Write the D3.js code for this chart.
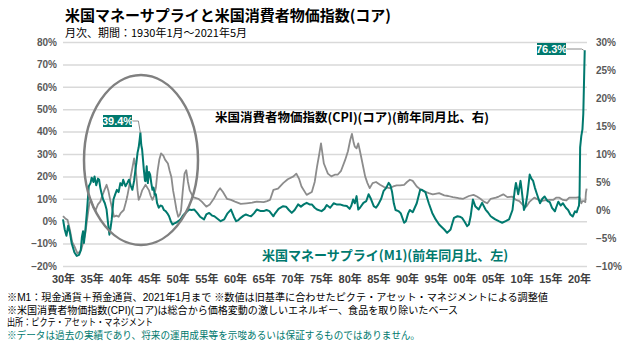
<!DOCTYPE html>
<html>
<head>
<meta charset="utf-8">
<script src="https://cdn.jsdelivr.net/npm/d3@7/dist/d3.min.js"></script>
<style>
  body { margin: 0; background: #fff; }
  svg { display: block; }
  .jp { font-family: "Noto Sans CJK JP", "Noto Sans", sans-serif; }
  .foot { font-family: "Liberation Sans", "Noto Sans CJK JP", sans-serif; }
  .num { font-family: "Liberation Sans Narrow", "Liberation Sans", "Noto Sans CJK JP", sans-serif; font-weight: bold; }
</style>
</head>
<body>
<svg id="chart"></svg>
<script>
// M1 (前年同月比、左軸) — [年, %]
const m1Years = [
  1930.0, 1930.3, 1930.6, 1930.9, 1931.2, 1931.5, 1932.0, 1932.4, 1932.8, 1933.1, 1933.3, 1933.5, 1933.65, 1933.9,
  1934.2, 1934.5, 1934.8, 1935.0, 1935.3, 1935.5, 1935.8, 1936.1, 1936.3, 1936.5, 1936.7, 1937.0, 1937.3, 1937.6,
  1937.9, 1938.1, 1938.3, 1938.5, 1938.8, 1939.1, 1939.4, 1939.7, 1940.0, 1940.3, 1940.5, 1940.7, 1940.9, 1941.2,
  1941.5, 1941.8, 1942.1, 1942.4, 1942.6, 1942.8, 1943.0, 1943.2, 1943.35, 1943.5, 1943.65, 1943.8, 1944.0, 1944.1,
  1944.3, 1944.4, 1944.6, 1944.8, 1945.0, 1945.2, 1945.4, 1945.6, 1945.8, 1946.0, 1946.2, 1946.4, 1946.7, 1947.0,
  1947.3, 1947.6, 1947.9, 1948.2, 1948.5, 1948.8, 1949.1, 1949.4, 1949.7, 1950.1, 1950.5, 1950.8, 1951.1, 1951.5,
  1952.0, 1952.4, 1952.9, 1953.4, 1953.9, 1954.6, 1955.0, 1955.5, 1956.0, 1956.4, 1957.0, 1957.5, 1958.1, 1958.7,
  1959.3, 1959.8, 1960.2, 1960.6, 1961.0, 1961.5, 1961.9, 1962.4, 1962.8, 1963.3, 1963.8, 1964.5, 1965.0, 1965.5,
  1966.0, 1966.7, 1967.0, 1967.6, 1968.4, 1968.9, 1969.4, 1969.9, 1970.4, 1971.0, 1971.5, 1972.0, 1972.5, 1973.0,
  1973.4, 1973.9, 1974.3, 1975.1, 1975.6, 1976.0, 1976.6, 1977.2, 1977.7, 1978.3, 1978.9, 1979.5, 1980.0, 1980.3,
  1980.6, 1980.9, 1981.2, 1981.5, 1981.8, 1982.4, 1982.9, 1983.3, 1983.7, 1984.2, 1984.6, 1985.0, 1985.5, 1985.9,
  1986.4, 1986.8, 1987.1, 1987.4, 1987.7, 1988.0, 1988.5, 1988.9, 1989.5, 1989.8, 1990.2, 1990.5, 1991.0, 1991.7,
  1992.0, 1992.3, 1992.6, 1993.2, 1993.5, 1993.8, 1994.4, 1995.0, 1995.6, 1996.0, 1996.5, 1997.0, 1997.6, 1997.9,
  1998.2, 1998.8, 1999.2, 1999.6, 2000.0, 2000.5, 2000.8, 2001.1, 2001.5, 2001.9, 2002.5, 2003.1, 2003.7, 2004.1,
  2004.6, 2005.0, 2005.4, 2006.0, 2006.6, 2007.2, 2007.8, 2008.4, 2008.8, 2009.0, 2009.4, 2009.8, 2010.0, 2010.4,
  2010.7, 2011.0, 2011.4, 2011.7, 2012.0, 2012.3, 2012.6, 2013.2, 2013.6, 2014.0, 2014.5, 2014.9, 2015.3, 2015.8,
  2016.0, 2016.4, 2016.8, 2017.2, 2017.7, 2018.1, 2018.5, 2018.9, 2019.3, 2019.6, 2019.85, 2020.0, 2020.1, 2020.2,
  2020.4, 2020.6, 2020.75, 2021.0
];
const m1Values = [
  0.8, -3.7, -6.5, -2, -5, -9.7, -14, -15.5, -15, -13, -7, -4.5, -9.7, -4,
  5.2, 15.6, 17, 19.4, 17.5, 20, 16, 19, 18.5, 15, 12.7, 9.7, 8, 5.2,
  -2, -6, -3, 0.8, 9.7, 12, 14, 13, 17, 16, 18.5, 17, 15.6, 17,
  18.5, 16, 14, 18, 22.3, 26, 30.5, 33, 36, 39.4, 34, 32, 26, 23,
  18, 17.9, 24.5, 17, 22, 20.8, 17, 14, 15, 11.9, 12, 8.2, 6, 7,
  6.7, 5, 4.5, 3.5, 2.2, 0, -1.5, -1, -0.7, 0, 0.8, 2, 3, 4,
  5.2, 5, 5.2, 3.7, 2, 0.8, 3, 3.7, 2.5, 2.2, 1, 0, 0.8, 3.5,
  5.2, 2, 0, 0.5, 1.5, 2.5, 3, 2.5, 2.2, 3.5, 5.2, 4.5, 4.5, 5,
  4.5, 2.2, 3.5, 5.5, 6.7, 6.5, 5, 3.7, 5, 7.5, 6.5, 7.5, 8.2, 7.5,
  7.5, 6, 5.2, 4.5, 5.5, 7.2, 6, 8, 7.5, 7.5, 7, 6.8, 5.5, 7,
  9.7, 8, 11.2, 5.2, 6, 8.2, 9, 12, 10, 6.7, 6, 7.5, 10, 13.4,
  15, 17.1, 16, 13, 8, 5, 4.5, 3.6, -0.7, 0, 3.5, 5, 4, 8,
  11, 14, 14, 13, 10.5, 8, 3.7, 0.8, -1.5, -2.5, -3.7, -5.2, -3.7, -1,
  1.5, 2.2, 2, 1.5, 0, -2.2, -1.5, 2.2, 9.7, 6.7, 5.2, 8.2, 5.2, 4,
  2.2, 1.5, 0.8, 0, -0.7, 0, 0.8, 5, 14, 17.1, 12, 18, 14, 5,
  7, 12, 20.8, 19, 18, 15, 12.6, 8, 10, 11, 9, 8.5, 6, 4.4,
  6, 8.7, 7, 8, 6, 5, 3, 2.1, 4.4, 4, 6, 7, 12, 33,
  38, 41, 48, 76.3
];

// 米国消費者物価指数(コア)(前年同月比、右軸) — [年, %]
const cpiYears = [
  1930.0, 1930.4, 1930.8, 1931.2, 1931.6, 1932.0, 1932.5, 1932.9, 1933.2, 1933.6, 1933.9, 1934.3, 1934.6, 1934.9,
  1935.3, 1935.7, 1936.1, 1936.5, 1936.8, 1937.2, 1937.6, 1937.9, 1938.3, 1938.9, 1939.3, 1939.7, 1940.1, 1940.6,
  1941.0, 1941.2, 1941.5, 1941.8, 1942.1, 1942.4, 1942.6, 1942.8, 1943.0, 1943.2, 1943.5, 1943.8, 1944.1, 1944.4,
  1944.7, 1945.0, 1945.3, 1945.6, 1945.9, 1946.2, 1946.5, 1946.8, 1947.1, 1947.5, 1947.8, 1948.3, 1948.6, 1948.9,
  1949.2, 1949.5, 1949.8, 1950.1, 1950.4, 1950.6, 1950.9, 1951.2, 1951.5, 1951.8, 1952.1, 1952.7, 1953.6, 1954.2,
  1955.0, 1955.6, 1956.3, 1956.9, 1957.4, 1957.9, 1958.6, 1959.3, 1960.0, 1961.0, 1962.0, 1963.0, 1963.8, 1965.0,
  1965.6, 1966.1, 1966.7, 1967.5, 1968.4, 1969.2, 1970.2, 1970.7, 1971.2, 1971.6, 1972.5, 1973.4, 1973.9, 1974.3,
  1974.7, 1975.0, 1975.5, 1976.2, 1976.8, 1977.4, 1977.9, 1978.5, 1979.2, 1979.7, 1980.1, 1980.4, 1980.7, 1980.9,
  1981.2, 1981.5, 1981.8, 1982.0, 1982.4, 1982.7, 1983.1, 1983.5, 1984.0, 1984.6, 1985.3, 1986.0, 1986.5, 1987.0,
  1987.6, 1988.2, 1988.8, 1989.5, 1990.0, 1990.5, 1991.0, 1991.7, 1992.3, 1992.9, 1993.8, 1994.5, 1995.6, 1996.5,
  1997.2, 1998.0, 1999.0, 1999.8, 2000.8, 2001.6, 2002.2, 2002.8, 2003.4, 2004.0, 2004.6, 2005.5, 2006.0, 2006.8,
  2007.5, 2008.3, 2009.0, 2009.6, 2010.2, 2010.8, 2011.4, 2012.2, 2012.8, 2013.4, 2014.0, 2014.9, 2015.5, 2016.0,
  2016.6, 2017.2, 2017.8, 2018.3, 2018.9, 2019.5, 2020.1, 2020.4, 2020.6, 2020.9, 2021.1, 2021.2, 2021.33
];
const cpiValues = [
  -1.1, -1.5, -1.8, -3.5, -5.7, -6.5, -7.7, -7.5, -7, -5.5, -4.1, -1, 1.2, 1.8,
  0.5, 0, 1, 1.5, 2.4, 3.5, 4.5, 3.5, 1.5, -1.2, -1, -1.2, -0.5, 0,
  1.5, 2.4, 4, 5.9, 7.5, 9.2, 8, 6, 3.5, 1.8, 2.5, 3.5, 4, 4.5,
  4, 3.5, 2.5, 1.8, 2.5, 4, 7, 9, 10.1, 9.7, 9, 8.3, 7, 5.9,
  3.5, 1.8, 0, -1.2, -0.8, 0, 3.5, 6.5, 7.1, 5, 3.5, 2.3, 2, 1.5,
  0.6, 1, 2, 3.2, 3.9, 3.2, 2, 1.8, 1.5, 1.1, 1.2, 1.3, 1.5, 1.4,
  1.6, 1.8, 3.6, 3.8, 4.8, 5.5, 6, 6.5, 5.5, 4.2, 2.7, 3.2, 5, 7.7,
  10, 11.9, 8.3, 6.5, 6, 6.3, 6.3, 7, 8.9, 10.5, 12.5, 13.6, 12, 11.3,
  11, 11.9, 10.5, 9.5, 7.5, 6, 4.8, 3.9, 4.8, 5, 4.5, 4.1, 4, 3.9,
  4.2, 4.4, 4.4, 4.5, 5, 5.4, 5.2, 4.2, 3.7, 3.4, 3, 2.8, 3, 2.6,
  2.5, 2.3, 2.1, 2, 2.5, 2.7, 2.4, 2, 1.5, 1.2, 2, 2.2, 2.4, 2.8,
  2.3, 2.4, 1.8, 1.6, 0.9, 0.6, 1.5, 2.2, 1.9, 1.6, 1.7, 1.8, 1.8, 2.2,
  2.2, 1.8, 1.7, 2.2, 2.2, 2.2, 2.3, 1.2, 1.6, 1.6, 1.4, 3, 3.8
];

const leftTicks = [80, 70, 60, 50, 40, 30, 20, 10, 0, -10, -20];
const rightTicks = [30, 25, 20, 15, 10, 5, 0, -5, -10];
const xTickYears = d3.range(1930, 2021, 5);

const footnotes = [
  '※M1：現金通貨＋預金通貨、2021年1月まで ※数値は旧基準に合わせたピクテ・アセット・マネジメントによる調整値',
  '※米国消費者物価指数(CPI)(コア)は総合から価格変動の激しいエネルギー、食品を取り除いたベース',
  '出所：ピクテ・アセット・マネジメント',
  '※データは過去の実績であり、将来の運用成果等を示唆あるいは保証するものではありません。'
];
const footWidths = [541, 451, 146, 413];

const TEAL = '#00796e';
const GRAY = '#8c8c8c';

const width = 628, height = 361;
const plot = { left: 63, right: 587, top: 42, bottom: 266 };

const svg = d3.select('#chart').attr('width', width).attr('height', height);

const x = d3.scaleLinear().domain([1930, 2020]).range([63, 579]);
const yL = d3.scaleLinear().domain([-20, 80]).range([plot.bottom, plot.top]);
const yR = d3.scaleLinear().domain([-10, 30]).range([plot.bottom, plot.top]);

const fmtPct = v => (v < 0 ? '−' + Math.abs(v) : v) + '%';

// Title
svg.append('text').attr('class', 'jp')
  .attr('x', 65).attr('y', 21)
  .attr('font-size', 15).attr('font-weight', 'bold').attr('fill', '#000')
  .text('米国マネーサプライと米国消費者物価指数(コア)');

svg.append('text').attr('class', 'jp')
  .attr('x', 65).attr('y', 37)
  .attr('font-size', 11).attr('fill', '#000')
  .text('月次、期間：1930年1月～2021年5月');

// Grid + axes
const gridAxis = svg.append('g')
  .attr('transform', `translate(${plot.left},0)`)
  .call(d3.axisLeft(yL).tickValues(leftTicks).tickSize(-(plot.right - plot.left)).tickFormat(''));
gridAxis.select('.domain').remove();
gridAxis.selectAll('line').attr('stroke', '#d9d9d9').attr('stroke-width', 1.5);

const leftAxis = svg.append('g')
  .attr('transform', `translate(${plot.left - 6},0)`)
  .call(d3.axisLeft(yL).tickValues(leftTicks).tickSize(0).tickPadding(0).tickFormat(fmtPct));
leftAxis.select('.domain').remove();
leftAxis.selectAll('text').attr('class', 'num').attr('font-size', 10).attr('fill', '#595959');

const rightAxis = svg.append('g')
  .attr('transform', `translate(${plot.right + 9},0)`)
  .call(d3.axisRight(yR).tickValues(rightTicks).tickSize(0).tickPadding(0).tickFormat(fmtPct));
rightAxis.select('.domain').remove();
rightAxis.selectAll('text').attr('class', 'num').attr('font-size', 10).attr('fill', '#595959');

const xAxis = svg.append('g')
  .attr('transform', `translate(0,${plot.bottom + 5})`)
  .call(d3.axisBottom(x).tickValues(xTickYears).tickSize(0).tickPadding(4)
    .tickFormat(d => String(d % 100).padStart(2, '0') + '年'));
xAxis.select('.domain').remove();
xAxis.selectAll('text').attr('class', 'num').attr('font-size', 11).attr('fill', '#404040');

// Lines
const cpiData = cpiYears.map((t, i) => [t, cpiValues[i]]);
const m1Data = m1Years.map((t, i) => [t, m1Values[i]]);

svg.append('path')
  .datum(cpiData)
  .attr('fill', 'none').attr('stroke', GRAY).attr('stroke-width', 1.8).attr('stroke-linejoin', 'round')
  .attr('d', d3.line().x(d => x(d[0])).y(d => yR(d[1])));

svg.append('path')
  .datum(m1Data)
  .attr('fill', 'none').attr('stroke', TEAL).attr('stroke-width', 2).attr('stroke-linejoin', 'round')
  .attr('d', d3.line().x(d => x(d[0])).y(d => yL(d[1])));

// Circle around the war period
svg.append('ellipse')
  .attr('cx', 141).attr('cy', 160).attr('rx', 57).attr('ry', 85)
  .attr('fill', 'none').attr('stroke', '#808080').attr('stroke-width', 2.5);

// Value callouts
function callout(bx, by, bw, label, px, py) {
  svg.append('polyline')
    .attr('points', `${bx + bw},${by + 6} ${px - 2},${by + 6} ${px},${py}`)
    .attr('fill', 'none').attr('stroke', '#8c8c8c').attr('stroke-width', 1);
  svg.append('rect')
    .attr('x', bx).attr('y', by).attr('width', bw).attr('height', 12)
    .attr('fill', TEAL);
  svg.append('text').attr('class', 'num')
    .attr('x', bx + bw / 2).attr('y', by + 10)
    .attr('text-anchor', 'middle').attr('font-size', 11).attr('fill', '#fff')
    .text(label);
}
const peakIdx = m1Values.indexOf(39.4);
callout(103, 115, 29, '39.4%', x(m1Years[peakIdx]), yL(39.4));
const lastIdx = m1Values.length - 1;
callout(537, 43, 29, m1Values[lastIdx] + '%', x(m1Years[lastIdx]) - 1, yL(m1Values[lastIdx]));

// Series labels
svg.append('text').attr('class', 'jp')
  .attr('x', 215).attr('y', 122)
  .attr('font-size', 12.5).attr('font-weight', 'bold').attr('fill', '#000')
  .text('米国消費者物価指数(CPI)(コア)(前年同月比、右)');

svg.append('text').attr('class', 'jp')
  .attr('x', 262).attr('y', 260)
  .attr('font-size', 13).attr('font-weight', 'bold').attr('fill', TEAL)
  .text('米国マネーサプライ(M1)(前年同月比、左)');

// Footnotes
svg.selectAll('text.foot')
  .data(footnotes)
  .join('text')
  .attr('class', 'foot')
  .attr('x', 7)
  .attr('y', (d, i) => 301 + i * 12.7)
  .attr('font-size', 10)
  .attr('textLength', (d, i) => footWidths[i])
  .attr('lengthAdjust', 'spacingAndGlyphs')
  .attr('fill', (d, i) => i === 3 ? TEAL : '#000')
  .text(d => d);
</script>
</body>
</html>
